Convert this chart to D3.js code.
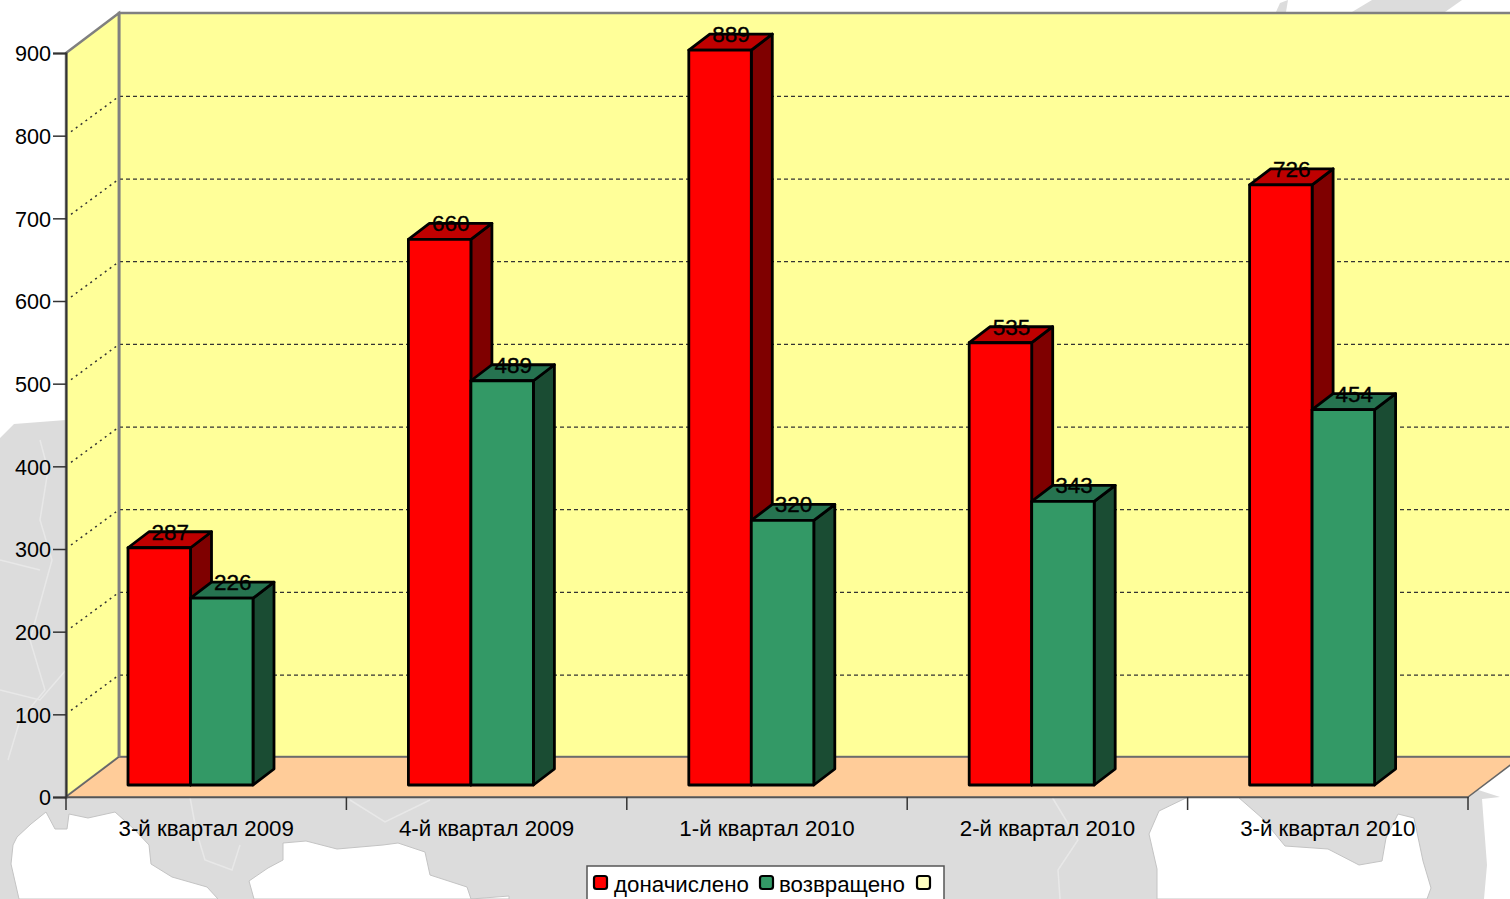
<!DOCTYPE html>
<html>
<head>
<meta charset="utf-8">
<script src="https://cdn.jsdelivr.net/npm/d3@7"></script>
<style>
  html, body { margin: 0; padding: 0; background: #fff; overflow: hidden; }
  svg { display: block; }
  text { font-family: "Liberation Sans", Arial, sans-serif; fill: #000; }
</style>
</head>
<body>
<div id="my_chart"></div>
<script>
// chart data
const categories = ["3-й квартал 2009", "4-й квартал 2009", "1-й квартал 2010", "2-й квартал 2010", "3-й квартал 2010"];
const seriesNames = ["доначислено", "возвращено"];
const accrued = [287, 660, 889, 535, 726];
const returned = [226, 489, 320, 343, 454];
const yTicks = [0, 100, 200, 300, 400, 500, 600, 700, 800, 900];

// picture size and 3d offsets
const width = 1510, height = 899;
const left = 66, right = 1468, top0 = 53, bottom0 = 797;
const depthX = 53, depthY = 40;     // wall depth
const offY = 12;                    // bars stand a bit in from the front edge
const barDX = 21, barDY = 16;       // depth of a bar

const colors = [
  {front: "#ff0000", top: "#bf0000", side: "#7f0000"},
  {front: "#339966", top: "#267350", side: "#1a4c33"}
];

const svg = d3.select("#my_chart").append("svg")
  .attr("width", width)
  .attr("height", height);

// faded map behind the chart
const mapGray = "#dcdcdc";
const mapShapes = [
  [[0,438],[14,424],[66,420],[140,700],[1200,700],[1500,797],[1482,799],[1487,865],[1484,899],[0,899]],
  [[1276,12],[1280,3],[1288,0],[1286,12]],
  [[1352,12],[1372,0],[1462,0],[1445,12]]
];
const mapHoles = [
  [[19,899],[11,864],[13,845],[17,837],[31,824],[46,812],[55,829],[67,829],[69,814],[88,818],[115,812],[134,829],[149,845],[151,864],[172,877],[207,887],[218,899]],
  [[254,899],[249,881],[268,868],[283,860],[283,843],[306,841],[337,849],[383,845],[398,843],[425,852],[430,875],[467,887],[471,899],[509,896],[509,899]],
  [[1157,899],[1157,869],[1149,834],[1159,811],[1188,797],[1238,797],[1262,818],[1285,846],[1328,849],[1359,865],[1382,861],[1386,838],[1398,814],[1414,818],[1423,861],[1431,888],[1427,899]]
];
const mapBorders = [
  [[40,440],[48,470],[40,520],[52,560],[30,640],[45,690],[20,720],[8,760]],
  [[0,560],[40,570]],
  [[0,690],[40,700],[66,670]],
  [[190,797],[196,830],[205,860],[232,870],[240,845]],
  [[1052,797],[1078,840],[1058,870],[1060,899]],
  [[350,800],[385,822],[430,800]]
];
const pathLine = d3.line();
const mapLayer = svg.append("g");
mapLayer.selectAll(".map").data(mapShapes).enter().append("path")
  .attr("d", d => pathLine(d) + "Z")
  .attr("fill", mapGray);
mapLayer.selectAll(".hole").data(mapHoles).enter().append("path")
  .attr("d", d => pathLine(d) + "Z")
  .attr("fill", "#ffffff")
  .attr("stroke", "#c4c4c4")
  .attr("stroke-width", 1);
mapLayer.selectAll(".border").data(mapBorders).enter().append("path")
  .attr("d", pathLine)
  .attr("fill", "none")
  .attr("stroke", "#e8e8e8")
  .attr("stroke-width", 1.5);

// scales
const y = d3.scaleLinear().domain([0, 900]).range([bottom0, top0]);
const x0 = d3.scaleBand().domain(categories).range([left, right]);
const x1 = d3.scaleBand().domain(seriesNames).range([62, 187]);

// walls and floor
const poly = pts => "M" + pts.map(p => p.join(",")).join("L") + "Z";
svg.append("path")
  .attr("d", poly([[left + depthX, y(900) - depthY], [right + depthX, y(900) - depthY], [right + depthX, y(0) - depthY], [left + depthX, y(0) - depthY]]))
  .attr("fill", "#ffff99")
  .attr("stroke", "#808080")
  .attr("stroke-width", 2.5);
svg.append("path")
  .attr("d", poly([[left, y(900)], [left + depthX, y(900) - depthY], [left + depthX, y(0) - depthY], [left, y(0)]]))
  .attr("fill", "#ffff99")
  .attr("stroke", "#808080")
  .attr("stroke-width", 2.5);
svg.append("path")
  .attr("d", poly([[left, y(0)], [left + depthX, y(0) - depthY], [right + depthX, y(0) - depthY], [right, y(0)]]))
  .attr("fill", "#ffcc99")
  .attr("stroke", "#666")
  .attr("stroke-width", 1.5);

// grid lines, dashed on the back wall and dotted on the side wall
const gridTicks = yTicks.filter(d => d > 0 && d < 900);
svg.selectAll(".grid-back").data(gridTicks).enter().append("line")
  .attr("x1", left + depthX).attr("x2", right + depthX)
  .attr("y1", d => y(d) - depthY + 0.7).attr("y2", d => y(d) - depthY + 0.7)
  .attr("stroke", "#333").attr("stroke-width", 1.3)
  .attr("stroke-dasharray", "4,3");
svg.selectAll(".grid-side").data(gridTicks).enter().append("line")
  .attr("x1", left + 5).attr("x2", left + depthX)
  .attr("y1", d => y(d) - 4).attr("y2", d => y(d) - depthY + 0.7)
  .attr("stroke", "#333").attr("stroke-width", 1.5)
  .attr("stroke-dasharray", "2,4");
svg.append("line")
  .attr("x1", left + depthX).attr("x2", left + depthX)
  .attr("y1", y(900) - depthY).attr("y2", y(0) - depthY)
  .attr("stroke", "#808080").attr("stroke-width", 2.5);

// bars, second series is drawn after the first so it covers its side face
const barRows = categories.flatMap((c, i) => [
  {cat: c, s: 0, name: seriesNames[0], value: accrued[i]},
  {cat: c, s: 1, name: seriesNames[1], value: returned[i]}
]);
const bars = svg.selectAll(".bar").data(barRows).enter().append("g").attr("class", "bar");
const bx = d => x0(d.cat) + x1(d.name);
const bw = x1.bandwidth();
const byTop = d => y(d.value) - offY;
const byBase = y(0) - offY;

bars.append("path") // side face
  .attr("d", d => poly([[bx(d) + bw, byTop(d)], [bx(d) + bw + barDX, byTop(d) - barDY], [bx(d) + bw + barDX, byBase - barDY], [bx(d) + bw, byBase]]))
  .attr("fill", d => colors[d.s].side);
bars.append("path") // top face
  .attr("d", d => poly([[bx(d), byTop(d)], [bx(d) + barDX, byTop(d) - barDY], [bx(d) + bw + barDX, byTop(d) - barDY], [bx(d) + bw, byTop(d)]]))
  .attr("fill", d => colors[d.s].top);
bars.append("rect")
  .attr("x", bx).attr("y", byTop)
  .attr("width", bw).attr("height", d => byBase - byTop(d))
  .attr("fill", d => colors[d.s].front);
bars.selectAll("path, rect")
  .attr("stroke", "#000").attr("stroke-width", 2.8).attr("stroke-linejoin", "round");

// value labels
svg.selectAll(".value").data(barRows).enter().append("text")
  .attr("class", "value")
  .attr("x", d => bx(d) + bw / 2 + 11)
  .attr("y", d => byTop(d) - barDY + 8)
  .attr("text-anchor", "middle")
  .style("font-size", "22.5px")
  .style("stroke", "#000")
  .style("stroke-width", "0.35px")
  .text(d => d.value);

// y axis
const yAxis = svg.append("g")
  .attr("transform", `translate(${left}, 0)`)
  .call(d3.axisLeft(y).tickValues(yTicks).tickSize(13).tickPadding(2).tickFormat(d3.format("d")));
yAxis.selectAll("text").style("font-size", "21.6px").attr("dy", "0.36em");
yAxis.selectAll("line").attr("stroke", "#333").attr("stroke-width", 1.5);
yAxis.select(".domain").attr("stroke", "#333").attr("stroke-width", 2);

// x axis, ticks sit on the category borders so they are added by hand
const xAxis = svg.append("g")
  .attr("transform", `translate(0, ${bottom0})`)
  .call(d3.axisBottom(x0).tickSize(0).tickPadding(23));
xAxis.select(".domain").attr("stroke", "#555").attr("stroke-width", 1.5);
xAxis.selectAll("text").style("font-size", "22.3px");
xAxis.selectAll(".border-tick").data(x0.domain().map(c => x0(c)).concat([right])).enter().append("line")
  .attr("x1", d => d).attr("x2", d => d)
  .attr("y1", 0).attr("y2", 13)
  .attr("stroke", "#333").attr("stroke-width", 1.5);

// legend
const legendItems = [
  {name: seriesNames[0], fill: colors[0].front, swatch: 594, label: 614},
  {name: seriesNames[1], fill: colors[1].front, swatch: 760, label: 779},
  {name: "", fill: "#ffffc0", swatch: 917, label: 936}
];
const legend = svg.append("g");
legend.append("rect")
  .attr("x", 587).attr("y", 866)
  .attr("width", 357).attr("height", 40)
  .attr("fill", "#fff").attr("stroke", "#555").attr("stroke-width", 1.5);
legend.selectAll(".swatch").data(legendItems).enter().append("rect")
  .attr("x", d => d.swatch).attr("y", 876)
  .attr("width", 13).attr("height", 13).attr("rx", 2.5)
  .attr("fill", d => d.fill).attr("stroke", "#000").attr("stroke-width", 2.2);
legend.selectAll(".label").data(legendItems).enter().append("text")
  .attr("x", d => d.label).attr("y", 892)
  .style("font-size", "22.3px")
  .text(d => d.name);
</script>
</body>
</html>
